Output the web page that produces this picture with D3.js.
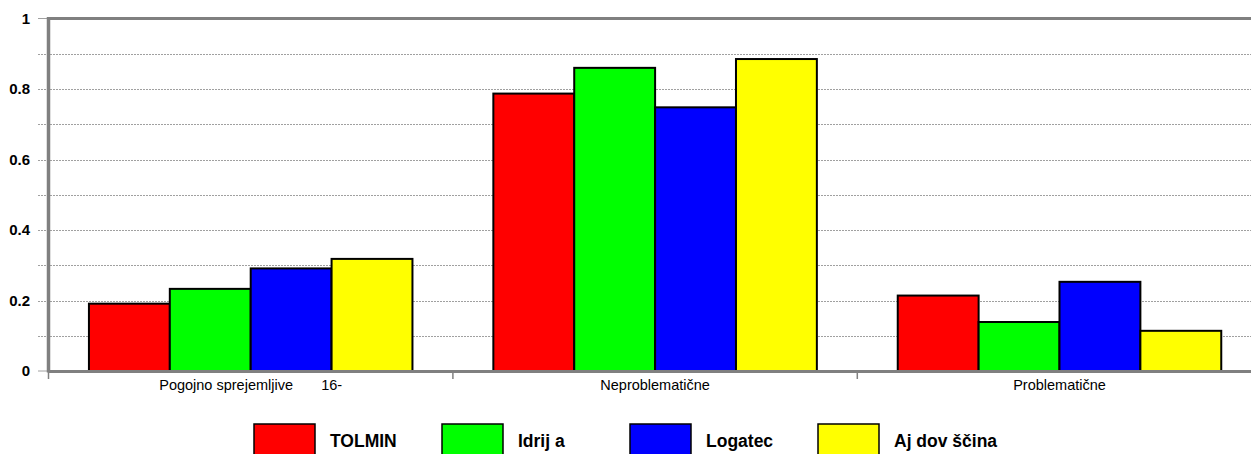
<!DOCTYPE html>
<html>
<head>
<meta charset="utf-8">
<script src="https://cdn.jsdelivr.net/npm/d3@7"></script>
<style>
  body { margin: 0; background: #fff; }
  svg { display: block; font-family: Arial, "Liberation Sans", sans-serif; }
</style>
</head>
<body>
<div id="chart"></div>
<script>
"use strict";

// categories on the x axis
var categories = ["Pogojno sprejemljive       16-", "Neproblematične", "Problematične"];
// series names, as printed in the legend
var seriesNames = ["TOLMIN", "Idrij a", "Logatec", "Aj dov ščina"];
var seriesColors = ["#ff0000", "#00ff00", "#0000ff", "#ffff00"];
// values per series, one per category
var tolmin = [0.191, 0.787, 0.214];
var idrija = [0.233, 0.86, 0.139];
var logatec = [0.291, 0.748, 0.253];
var ajdovscina = [0.318, 0.885, 0.114];
var yTickLabels = [0, 0.2, 0.4, 0.6, 0.8, 1];
var yGrid = d3.range(0, 11).map(function (i) { return i / 10; });

var series = [tolmin, idrija, logatec, ajdovscina];

var width = 1251, height = 454;
var svg = d3.select("#chart").append("svg")
  .attr("width", width)
  .attr("height", height);

// plot area
var plotLeft = 48.5, plotTop = 18.5, plotBottom = 371;
var bandW = 404.4;

var x = d3.scaleBand()
  .domain(categories)
  .range([plotLeft, plotLeft + bandW * categories.length])
  .paddingInner(0).paddingOuter(0);

var xInner = d3.scaleBand()
  .domain(d3.range(series.length))
  .range([0, x.bandwidth()])
  .paddingOuter(0.5).paddingInner(0);

var y = d3.scaleLinear().domain([0, 1]).range([plotBottom, plotTop]);

// gridlines every 0.1
svg.append("g").selectAll("line")
  .data(yGrid.filter(function (d) { return d > 0 && d < 1; }))
  .enter().append("line")
  .attr("x1", 38).attr("x2", width)
  .attr("y1", function (d) { return Math.round(y(d)) + 0.5; })
  .attr("y2", function (d) { return Math.round(y(d)) + 0.5; })
  .attr("stroke", "#a0a0a0")
  .attr("stroke-width", 1)
  .attr("stroke-dasharray", "2,1");

// small ticks left of axis
svg.append("g").selectAll("line")
  .data([0, 1])
  .enter().append("line")
  .attr("x1", 38).attr("x2", plotLeft)
  .attr("y1", function (d) { return y(d); })
  .attr("y2", function (d) { return y(d); })
  .attr("stroke", "#a0a0a0")
  .attr("stroke-width", 1);

// bars
var groups = svg.append("g").selectAll("g")
  .data(categories)
  .enter().append("g")
  .attr("transform", function (d) { return "translate(" + x(d) + ",0)"; });

groups.selectAll("rect")
  .data(function (d, ci) {
    return series.map(function (s, si) { return { si: si, v: s[ci] }; });
  })
  .enter().append("rect")
  .attr("x", function (d) { return xInner(d.si); })
  .attr("width", xInner.bandwidth())
  .attr("y", function (d) { return y(d.v); })
  .attr("height", function (d) { return y(0) - y(d.v); })
  .attr("fill", function (d) { return seriesColors[d.si]; })
  .attr("stroke", "#000")
  .attr("stroke-width", 2);

// axis frame lines
svg.append("line")
  .attr("x1", plotLeft).attr("x2", width)
  .attr("y1", plotTop).attr("y2", plotTop)
  .attr("stroke", "#808080").attr("stroke-width", 3);
svg.append("line")
  .attr("x1", plotLeft).attr("x2", plotLeft)
  .attr("y1", plotTop - 1.5).attr("y2", plotBottom + 1.5)
  .attr("stroke", "#808080").attr("stroke-width", 3.5);
svg.append("line")
  .attr("x1", plotLeft).attr("x2", width)
  .attr("y1", plotBottom + 0.5).attr("y2", plotBottom + 0.5)
  .attr("stroke", "#808080").attr("stroke-width", 3);

// category separator ticks
svg.append("g").selectAll("line")
  .data(categories)
  .enter().append("line")
  .attr("x1", function (d) { return x(d); })
  .attr("x2", function (d) { return x(d); })
  .attr("y1", plotBottom).attr("y2", plotBottom + 8)
  .attr("stroke", "#808080").attr("stroke-width", 1.5);

// y labels
svg.append("g").selectAll("text")
  .data(yTickLabels)
  .enter().append("text")
  .attr("x", 30)
  .attr("y", function (d) { return y(d) + 5; })
  .attr("text-anchor", "end")
  .attr("font-size", 15)
  .attr("font-weight", "bold")
  .text(function (d) { return d; });

// x labels
svg.append("g").selectAll("text")
  .data(categories)
  .enter().append("text")
  .attr("x", function (d) { return x(d) + x.bandwidth() / 2; })
  .attr("y", 390)
  .attr("text-anchor", "middle")
  .attr("font-size", 14.5)
  .style("white-space", "pre")
  .text(function (d) { return d; });

// legend
var legendStep = 188;
var legend = svg.append("g").selectAll("g")
  .data(seriesNames)
  .enter().append("g")
  .attr("transform", function (d, i) { return "translate(" + (254 + legendStep * i) + ",424)"; });

legend.append("rect")
  .attr("width", 61).attr("height", 34)
  .attr("fill", function (d, i) { return seriesColors[i]; })
  .attr("stroke", "#000").attr("stroke-width", 1.5);

legend.append("text")
  .attr("x", 76).attr("y", 23)
  .attr("font-size", 17.5)
  .attr("font-weight", "bold")
  .style("white-space", "pre")
  .text(function (d) { return d; });
</script>
</body>
</html>
